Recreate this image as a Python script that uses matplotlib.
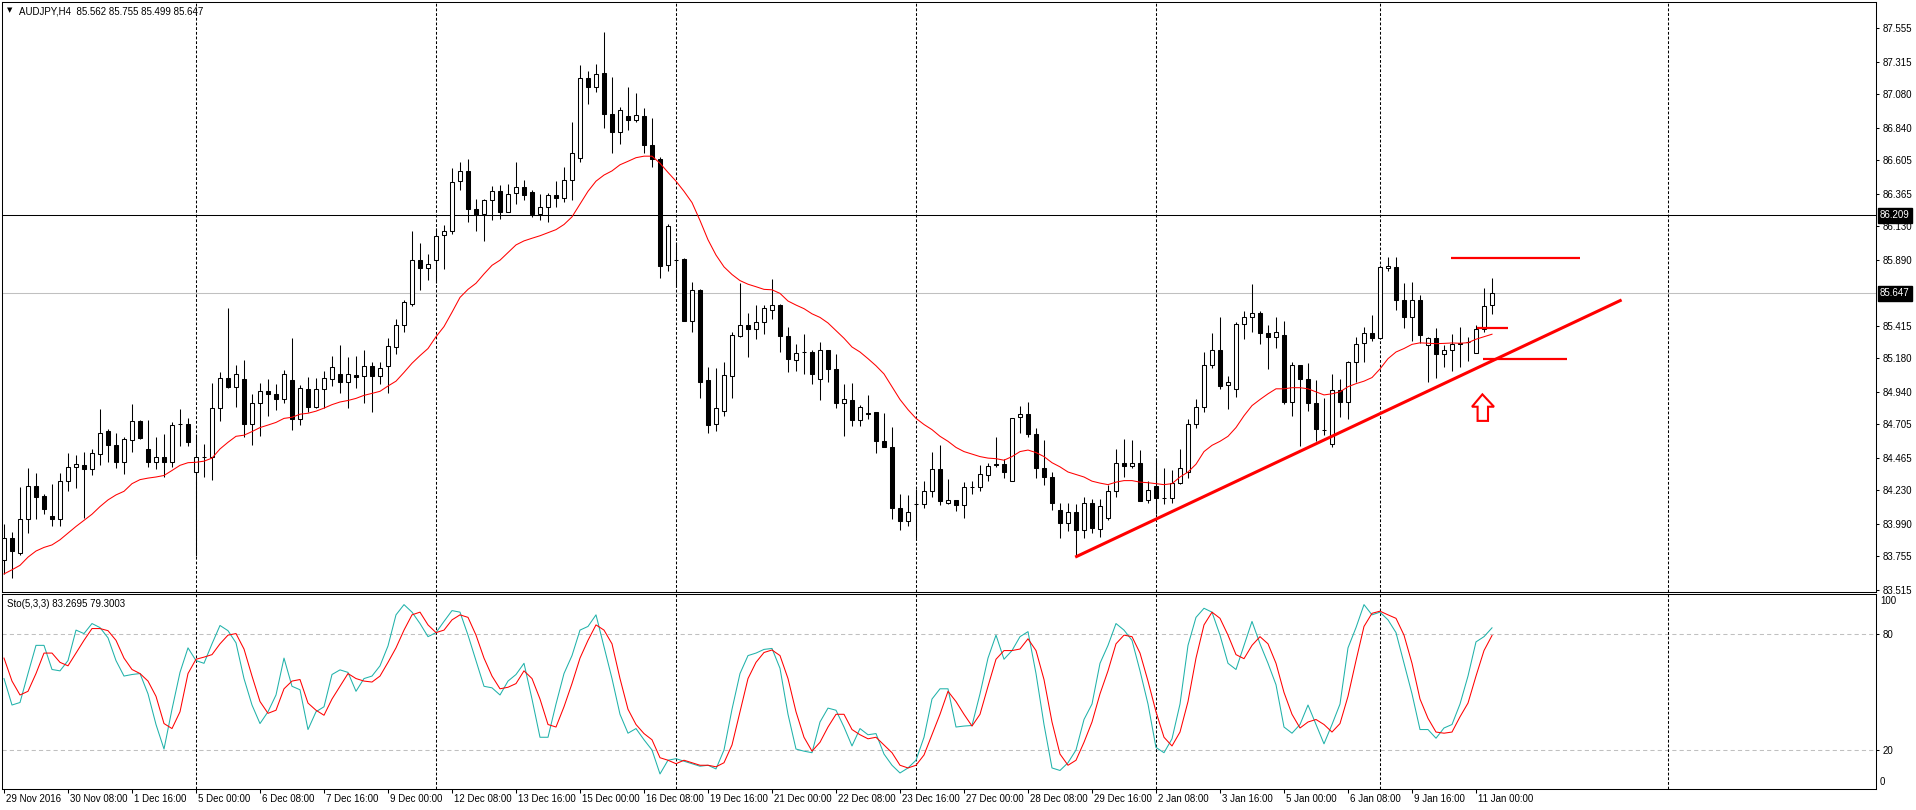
import matplotlib
matplotlib.use("Agg")
from matplotlib import pyplot as plt
from matplotlib.patches import Rectangle, Polygon

plt.rcParams['font.family'] = ['Liberation Sans', 'DejaVu Sans']

# AUDJPY H4 candles, 29 Nov 2016 .. 11 Jan 2017 08:00
opens = [83.726, 83.884, 83.781, 84.020, 84.262, 84.185, 84.042, 84.020, 84.295, 84.398,
         84.409, 84.384, 84.490, 84.655, 84.553, 84.435, 84.593, 84.729, 84.530, 84.431,
         84.472, 84.431, 84.710, 84.710, 84.361, 84.472, 84.472, 84.821, 85.041, 84.975,
         85.034, 84.710, 84.857, 84.946, 84.924, 84.887, 85.023, 84.740, 84.960, 84.832,
         84.960, 85.034, 85.070, 85.012, 85.059, 85.052, 85.125, 85.052, 85.125, 85.261,
         85.419, 85.574, 85.886, 85.831, 85.886, 86.069, 86.099, 86.455, 86.525, 86.253,
         86.216, 86.323, 86.382, 86.235, 86.371, 86.415, 86.374, 86.216, 86.272, 86.356,
         86.334, 86.463, 86.620, 87.201, 87.135, 87.234, 86.940, 86.811, 86.921, 86.892,
         86.921, 86.712, 86.613, 85.849, 85.886, 85.893, 85.445, 85.673, 85.023, 84.710,
         84.799, 85.052, 85.342, 85.419, 85.390, 85.438, 85.526, 85.563, 85.342, 85.170,
         85.225, 85.225, 85.034, 85.243, 85.103, 84.857, 84.883, 84.736, 84.784, 84.791,
         84.582, 84.538, 84.104, 84.005, 84.134, 84.134, 84.226, 84.380, 84.138, 84.156,
         84.123, 84.251, 84.251, 84.343, 84.417, 84.417, 84.295, 84.755, 84.777, 84.637,
         84.387, 84.325, 84.086, 83.994, 84.075, 83.943, 84.141, 83.950, 84.031, 84.226,
         84.424, 84.405, 84.424, 84.160, 84.262, 84.171, 84.171, 84.281, 84.361, 84.710,
         84.832, 85.133, 85.243, 84.986, 84.960, 85.430, 85.474, 85.507, 85.361, 85.335,
         85.346, 84.868, 85.133, 85.034, 84.857, 84.663, 84.564, 84.949, 84.868, 85.151,
         85.291, 85.364, 85.328, 85.831, 85.838, 85.599, 85.474, 85.603, 85.272, 85.324,
         85.214, 85.239, 85.291, 85.298, 85.221, 85.390, 85.562]
highs = [83.987, 83.932, 84.251, 84.387, 84.354, 84.204, 84.277, 84.354, 84.501, 84.483,
         84.508, 84.527, 84.813, 84.674, 84.644, 84.611, 84.850, 84.736, 84.736, 84.611,
         84.637, 84.718, 84.813, 84.747, 84.637, 84.564, 85.004, 85.078, 85.540, 85.133,
         85.170, 84.924, 85.004, 85.030, 84.993, 85.096, 85.324, 84.986, 85.048, 85.041,
         85.085, 85.199, 85.276, 85.188, 85.195, 85.239, 85.151, 85.151, 85.328, 85.463,
         85.603, 86.095, 86.007, 85.934, 86.117, 86.136, 86.547, 86.591, 86.613, 86.327,
         86.327, 86.422, 86.429, 86.437, 86.591, 86.463, 86.389, 86.363, 86.371, 86.455,
         86.558, 86.878, 87.289, 87.245, 87.300, 87.531, 87.208, 86.988, 87.135, 87.091,
         86.980, 86.907, 86.628, 86.150, 86.014, 85.904, 85.728, 85.680, 85.114, 85.107,
         85.151, 85.372, 85.720, 85.507, 85.563, 85.563, 85.750, 85.574, 85.408, 85.280,
         85.353, 85.243, 85.298, 85.243, 85.214, 84.997, 85.004, 84.847, 84.913, 84.791,
         84.784, 84.685, 84.204, 84.196, 84.240, 84.295, 84.508, 84.553, 84.314, 84.160,
         84.288, 84.299, 84.409, 84.428, 84.611, 84.453, 84.747, 84.839, 84.865, 84.681,
         84.589, 84.361, 84.141, 84.141, 84.134, 84.182, 84.167, 84.167, 84.270, 84.527,
         84.600, 84.593, 84.519, 84.295, 84.460, 84.391, 84.372, 84.527, 84.740, 84.887,
         85.225, 85.364, 85.474, 85.052, 85.438, 85.518, 85.713, 85.518, 85.419, 85.474,
         85.445, 85.151, 85.133, 85.144, 85.023, 84.894, 85.070, 85.034, 85.162, 85.335,
         85.408, 85.489, 85.849, 85.912, 85.912, 85.720, 85.728, 85.636, 85.335, 85.397,
         85.276, 85.353, 85.404, 85.335, 85.419, 85.684, 85.755]
lows = [83.627, 83.601, 83.763, 83.921, 84.020, 84.057, 83.969, 83.969, 84.226, 84.244,
        84.031, 84.336, 84.409, 84.431, 84.387, 84.350, 84.508, 84.600, 84.394, 84.380,
        84.325, 84.398, 84.545, 84.545, 83.756, 84.325, 84.306, 84.725, 84.968, 84.832,
        84.611, 84.553, 84.618, 84.766, 84.810, 84.857, 84.663, 84.703, 84.791, 84.821,
        84.821, 84.979, 84.931, 84.821, 84.968, 84.857, 84.795, 84.997, 84.931, 85.214,
        85.372, 85.555, 85.673, 85.746, 85.721, 85.820, 86.077, 86.393, 86.161, 86.099,
        86.022, 86.172, 86.180, 86.235, 86.290, 86.323, 86.198, 86.172, 86.161, 86.272,
        86.308, 86.319, 86.591, 87.013, 87.098, 86.841, 86.657, 86.720, 86.822, 86.878,
        86.657, 86.554, 85.757, 85.805, 85.695, 85.445, 85.372, 84.894, 84.644, 84.655,
        84.766, 84.894, 85.335, 85.188, 85.317, 85.353, 85.463, 85.225, 85.078, 85.089,
        85.070, 84.997, 84.876, 85.012, 84.821, 84.618, 84.692, 84.692, 84.740, 84.501,
        84.538, 84.020, 83.946, 83.969, 83.884, 84.104, 84.178, 84.123, 84.130, 84.079,
        84.027, 84.204, 84.226, 84.295, 84.398, 84.317, 84.295, 84.644, 84.611, 84.317,
        84.270, 84.086, 83.884, 83.939, 83.748, 83.884, 83.921, 83.895, 84.013, 84.178,
        84.325, 84.387, 84.149, 84.141, 84.057, 84.130, 84.141, 84.277, 84.317, 84.681,
        84.791, 85.107, 84.960, 84.813, 84.901, 85.317, 85.372, 85.280, 85.103, 85.254,
        84.850, 84.766, 84.545, 84.802, 84.582, 84.630, 84.538, 84.755, 84.740, 85.012,
        85.151, 85.306, 85.317, 85.805, 85.529, 85.401, 85.306, 85.291, 85.012, 85.041,
        85.114, 85.089, 85.114, 85.162, 85.217, 85.372, 85.499]
closes = [83.884, 83.792, 84.020, 84.262, 84.178, 84.097, 84.020, 84.295, 84.398, 84.420,
          84.384, 84.497, 84.644, 84.556, 84.435, 84.600, 84.725, 84.607, 84.431, 84.472,
          84.431, 84.703, 84.707, 84.575, 84.472, 84.475, 84.821, 85.041, 84.975, 85.070,
          84.710, 84.857, 84.942, 84.920, 84.887, 85.070, 84.740, 84.968, 84.832, 84.960,
          85.041, 85.114, 85.012, 85.067, 85.048, 85.125, 85.052, 85.107, 85.265, 85.419,
          85.585, 85.886, 85.831, 85.860, 86.062, 86.099, 86.448, 86.525, 86.253, 86.209,
          86.319, 86.382, 86.235, 86.363, 86.415, 86.356, 86.216, 86.272, 86.356, 86.334,
          86.463, 86.657, 87.201, 87.135, 87.226, 86.940, 86.811, 86.969, 86.892, 86.929,
          86.712, 86.613, 85.842, 86.132, 85.882, 85.445, 85.673, 85.012, 84.703, 84.821,
          85.059, 85.346, 85.419, 85.390, 85.438, 85.544, 85.563, 85.342, 85.177, 85.217,
          85.221, 85.070, 85.239, 85.103, 84.857, 84.887, 84.736, 84.832, 84.780, 84.582,
          84.538, 84.104, 84.005, 84.075, 84.130, 84.226, 84.380, 84.149, 84.156, 84.123,
          84.251, 84.255, 84.343, 84.405, 84.413, 84.361, 84.747, 84.777, 84.637, 84.387,
          84.325, 84.141, 83.994, 84.075, 83.943, 84.141, 83.957, 84.115, 84.222, 84.424,
          84.405, 84.424, 84.149, 84.233, 84.171, 84.168, 84.281, 84.391, 84.710, 84.832,
          85.133, 85.243, 84.979, 85.012, 85.427, 85.474, 85.507, 85.361, 85.335, 85.372,
          84.865, 85.133, 85.034, 84.857, 84.674, 84.666, 84.949, 84.868, 85.151, 85.280,
          85.364, 85.324, 85.838, 85.842, 85.603, 85.474, 85.603, 85.346, 85.324, 85.214,
          85.239, 85.280, 85.280, 85.294, 85.390, 85.555, 85.647]

# moving average (red line on the price chart)
ma = [83.627, 83.657, 83.689, 83.748, 83.792, 83.818, 83.836, 83.873, 83.921, 83.969,
      84.013, 84.057, 84.112, 84.160, 84.196, 84.222, 84.277, 84.306, 84.317, 84.325,
      84.336, 84.372, 84.409, 84.428, 84.431, 84.439, 84.461, 84.527, 84.575, 84.618,
      84.626, 84.652, 84.681, 84.699, 84.718, 84.747, 84.755, 84.777, 84.784, 84.799,
      84.821, 84.846, 84.865, 84.876, 84.891, 84.913, 84.927, 84.942, 84.980, 85.015,
      85.078, 85.144, 85.199, 85.250, 85.335, 85.408, 85.511, 85.618, 85.676, 85.720,
      85.787, 85.849, 85.886, 85.941, 85.996, 86.025, 86.044, 86.062, 86.084, 86.106,
      86.143, 86.198, 86.290, 86.382, 86.455, 86.499, 86.529, 86.573, 86.598, 86.624,
      86.635, 86.635, 86.584, 86.518, 86.455, 86.382, 86.301, 86.172, 86.033, 85.923,
      85.838, 85.783, 85.739, 85.713, 85.695, 85.676, 85.673, 85.647, 85.592, 85.563,
      85.537, 85.500, 85.474, 85.434, 85.379, 85.324, 85.261, 85.225, 85.177, 85.126,
      85.067, 84.975, 84.883, 84.810, 84.747, 84.703, 84.666, 84.618, 84.582, 84.538,
      84.508, 84.490, 84.472, 84.461, 84.457, 84.446, 84.472, 84.508, 84.519, 84.501,
      84.472, 84.428, 84.398, 84.361, 84.343, 84.325, 84.295, 84.281, 84.270, 84.288,
      84.299, 84.299, 84.288, 84.284, 84.277, 84.270, 84.277, 84.325, 84.361, 84.417,
      84.508, 84.553, 84.582, 84.618, 84.681, 84.766, 84.839, 84.883, 84.924, 84.960,
      84.960, 84.968, 84.968, 84.960, 84.938, 84.916, 84.924, 84.938, 84.975, 84.997,
      85.015, 85.041, 85.103, 85.177, 85.225, 85.250, 85.280, 85.291, 85.288, 85.285,
      85.287, 85.290, 85.288, 85.292, 85.317, 85.335, 85.353]

# Stochastic (5,3,3): main %K and signal %D
sto_k = [57.0, 43.3, 44.6, 59.6, 74.2, 74.2, 61.7, 61.0, 66.3, 82.1,
         80.3, 85.5, 83.4, 78.1, 66.3, 58.3, 59.1, 59.6, 49.1, 33.2,
         20.5, 41.1, 60.2, 72.9, 66.3, 64.9, 75.0, 84.5, 81.8, 75.5,
         57.0, 43.3, 33.7, 39.8, 48.5, 67.6, 53.0, 51.2, 30.6, 39.8,
         42.4, 59.1, 61.5, 60.2, 50.4, 57.0, 58.3, 63.6, 73.9, 90.0,
         95.3, 91.4, 85.5, 78.7, 80.8, 86.6, 92.2, 91.4, 79.5, 66.3,
         53.0, 52.2, 48.5, 55.7, 59.1, 64.9, 46.4, 26.6, 26.6, 43.8,
         59.6, 68.9, 82.1, 84.0, 90.0, 73.4, 57.0, 38.5, 28.7, 31.1,
         25.3, 20.0, 7.6, 14.7, 15.5, 14.2, 12.9, 11.6, 12.1, 10.2,
         20.0, 41.1, 59.6, 68.9, 70.2, 72.1, 72.6, 62.3, 38.5, 20.5,
         19.4, 18.6, 34.5, 41.7, 40.6, 31.9, 22.1, 31.1, 27.9, 28.5,
         17.9, 12.1, 8.1, 10.7, 14.7, 26.6, 46.4, 51.7, 51.7, 31.9,
         32.4, 32.7, 49.1, 67.6, 79.5, 67.0, 71.5, 78.7, 81.3, 59.6,
         33.2, 10.7, 9.4, 13.4, 20.0, 35.8, 43.8, 64.9, 74.2, 85.5,
         82.1, 76.8, 61.0, 43.8, 21.3, 18.6, 25.8, 43.8, 74.2, 88.7,
         93.4, 91.4, 79.5, 64.9, 61.7, 74.2, 86.6, 75.0, 64.9, 53.8,
         31.9, 28.7, 33.2, 43.3, 33.2, 23.2, 33.2, 43.8, 72.9, 83.4,
         95.3, 90.0, 91.4, 87.4, 80.8, 64.9, 49.1, 30.6, 30.6, 26.1,
         31.4, 33.2, 43.8, 58.3, 76.0, 78.7, 83.27]
sto_d = [67.6, 55.7, 48.5, 50.4, 59.6, 70.2, 70.2, 65.4, 63.6, 70.2,
         76.8, 82.9, 82.9, 81.8, 76.8, 67.6, 61.7, 59.6, 55.7, 47.8,
         33.7, 31.1, 39.8, 59.6, 67.0, 68.1, 69.4, 75.0, 79.5, 80.3,
         72.3, 58.3, 45.1, 39.0, 40.6, 51.7, 55.7, 56.5, 44.3, 40.6,
         38.0, 46.4, 53.0, 59.6, 57.0, 55.7, 55.2, 58.3, 65.4, 72.9,
         82.1, 90.0, 91.4, 84.8, 80.8, 82.1, 87.4, 90.0, 88.7, 79.5,
         67.6, 58.3, 51.7, 52.5, 54.4, 61.0, 57.0, 46.4, 33.2, 31.9,
         42.4, 54.4, 67.6, 76.8, 84.8, 82.1, 75.0, 57.0, 41.1, 33.2,
         28.5, 25.3, 16.0, 14.7, 12.9, 14.7, 13.4, 12.1, 12.1, 11.3,
         13.4, 22.6, 39.8, 57.0, 65.4, 70.5, 71.8, 68.9, 57.0, 39.8,
         26.6, 19.4, 24.0, 31.9, 38.5, 38.5, 30.6, 27.9, 25.8, 26.6,
         22.6, 18.6, 12.1, 10.7, 12.1, 17.4, 27.9, 38.5, 50.4, 45.1,
         38.5, 32.4, 38.5, 53.0, 67.0, 71.5, 71.5, 72.3, 77.6, 71.5,
         56.5, 34.5, 17.9, 12.1, 14.7, 24.0, 34.5, 49.1, 61.0, 75.0,
         79.5, 78.7, 70.2, 55.7, 39.8, 26.6, 22.1, 29.3, 45.1, 67.6,
         84.8, 91.4, 88.2, 79.5, 69.4, 67.3, 74.2, 78.7, 75.0, 64.9,
         49.8, 38.5, 31.4, 34.5, 35.8, 33.2, 29.3, 33.7, 47.8, 66.3,
         84.0, 90.8, 91.9, 90.0, 88.2, 79.5, 64.9, 46.4, 36.4, 29.3,
         28.7, 29.3, 37.2, 44.3, 58.3, 71.5, 79.30]

price_ticks = [87.555, 87.315, 87.080, 86.840, 86.605, 86.365, 86.130, 85.890,
               85.415, 85.180, 84.940, 84.705, 84.465, 84.230, 83.990, 83.755, 83.515]
time_labels = ["29 Nov 2016", "30 Nov 08:00", "1 Dec 16:00", "5 Dec 00:00", "6 Dec 08:00",
               "7 Dec 16:00", "9 Dec 00:00", "12 Dec 08:00", "13 Dec 16:00", "15 Dec 00:00",
               "16 Dec 08:00", "19 Dec 16:00", "21 Dec 00:00", "22 Dec 08:00", "23 Dec 16:00",
               "27 Dec 00:00", "28 Dec 08:00", "29 Dec 16:00", "2 Jan 08:00", "3 Jan 16:00",
               "5 Jan 00:00", "6 Jan 08:00", "9 Jan 16:00", "11 Jan 00:00"]
week_bars = [24, 54, 84, 114, 144, 172, 208]
hline_price = 86.209
bid_price = 85.647

W, H = 1916, 810
fig = plt.figure(figsize=(W / 100, H / 100), dpi=100)
fig.patch.set_facecolor('white')


def px_box(x0, y0, x1, y1):
    return [x0 / W, 1 - y1 / H, (x1 - x0) / W, (y1 - y0) / H]


ax = fig.add_axes(px_box(2, 2, 1876, 592))
ax_s = fig.add_axes(px_box(2, 594, 1876, 789))

xs = list(range(len(closes)))
lw = 0.75

# candles
for i in xs:
    o, h, l, c = opens[i], highs[i], lows[i], closes[i]
    ax.vlines(i, l, h, color='black', lw=lw, zorder=2)
    if abs(c - o) < 0.004:
        ax.hlines(o, i - 0.3, i + 0.3, color='black', lw=lw, zorder=3)
    else:
        face = 'white' if c > o else 'black'
        ax.add_patch(Rectangle((i - 0.25, min(o, c)), 0.5, abs(c - o),
                               facecolor=face, edgecolor='black', lw=lw, zorder=3))

ax.plot(xs, ma, color='red', lw=lw, zorder=4)
ax.axhline(hline_price, color='black', lw=lw, zorder=1)
ax.axhline(bid_price, color='#c0c0c0', lw=lw, zorder=1)

# drawn objects: trend line, levels, arrow
ax.plot([133.9, 202.2], [83.748, 85.600], color='red', lw=2.2, zorder=5,
        solid_capstyle='butt')
ax.hlines(85.900, 180.9, 197.0, color='red', lw=1.6, zorder=5)
ax.hlines(85.401, 184.1, 188.0, color='red', lw=1.6, zorder=5)
ax.hlines(85.177, 184.9, 195.4, color='red', lw=1.6, zorder=5)
arrow = [(184.8, 84.920), (186.25, 84.831), (185.5, 84.831), (185.5, 84.729),
         (184.2, 84.729), (184.2, 84.831), (183.5, 84.831)]
ax.add_patch(Polygon(arrow, closed=True, facecolor='white', edgecolor='red',
                     lw=1.5, zorder=5))

# stochastic
ax_s.plot(xs, sto_k, color='#20b2aa', lw=lw, zorder=3)
ax_s.plot(xs, sto_d, color='red', lw=lw, zorder=4)
for lev in (20, 80):
    ax_s.axhline(lev, color='#c0c0c0', lw=lw, ls=(0, (4, 3)), zorder=1)

for a in (ax, ax_s):
    for b in week_bars:
        a.axvline(b, color='black', lw=lw, ls=(0, (2.7, 1.8)), zorder=1)
    a.set_xlim(-0.25, 234)
    for sp in a.spines.values():
        sp.set_color('black')
        sp.set_linewidth(lw)

ax.set_ylim(83.497, 87.745)
ax_s.set_ylim(-0.2, 100.8)

# price axis on the right
ax.yaxis.tick_right()
ax.set_yticks(price_ticks)
ax.set_yticklabels([f"{p:.3f}" for p in price_ticks])
ax.tick_params(axis='y', length=2.5, width=lw, pad=2, labelsize=7, direction='out')
ax.set_xticks([])
for p in (hline_price, bid_price):
    ax.annotate(f"{p:.3f}", xy=(1, p), xycoords=ax.get_yaxis_transform(),
                xytext=(4, 0), textcoords='offset pixels', ha='left', va='center',
                fontsize=7, color='white', annotation_clip=False,
                bbox=dict(boxstyle='square,pad=0.25', fc='black', ec='black'))

ax_s.yaxis.tick_right()
ax_s.set_yticks([20, 80])
ax_s.set_yticklabels(["20", "80"])
ax_s.tick_params(axis='y', length=2.5, width=lw, pad=2, labelsize=7, direction='out')
ax_s.annotate("100", xy=(1, 100), xycoords=ax_s.get_yaxis_transform(), xytext=(4, 0),
              textcoords='offset pixels', ha='left', va='top', fontsize=7,
              annotation_clip=False)
ax_s.annotate("0", xy=(1, 0), xycoords=ax_s.get_yaxis_transform(), xytext=(4, 2),
              textcoords='offset pixels', ha='left', va='bottom', fontsize=7,
              annotation_clip=False)

# time axis
ax_s.set_xticks([8 * k for k in range(len(time_labels))])
ax_s.set_xticklabels([])
ax_s.tick_params(axis='x', length=3, width=lw, direction='out')
for k, lab in enumerate(time_labels):
    ax_s.annotate(lab, xy=(8 * k, 0), xycoords=ax_s.get_xaxis_transform(),
                  xytext=(2, -5), textcoords='offset pixels', ha='left', va='top',
                  fontsize=7, annotation_clip=False)

# headers
fig.text(7 / W, 1 - 10 / H, "\u25bc", fontsize=5, family='DejaVu Sans', va='center')
fig.text(19 / W, 1 - 11 / H, "AUDJPY,H4  85.562 85.755 85.499 85.647",
         fontsize=7, va='center', ha='left')
fig.text(7 / W, 1 - 604 / H, "Sto(5,3,3) 83.2695 79.3003", fontsize=7,
         va='center', ha='left')

fig.savefig("out.png", dpi=100)
